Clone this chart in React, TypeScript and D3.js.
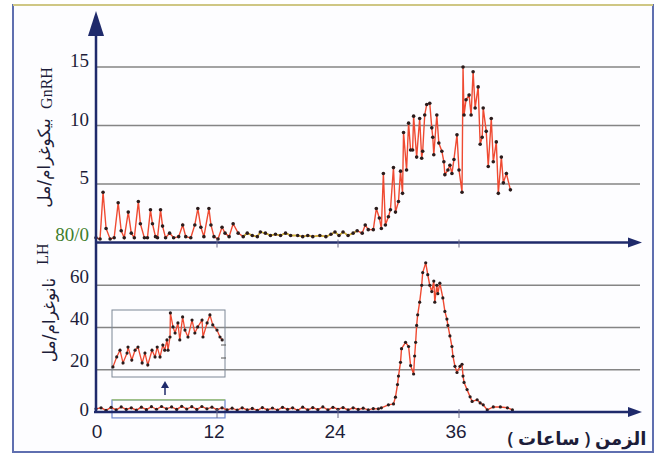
import React from "react";
import * as d3 from "d3";

// ---------- DATA ----------
// GnRH (pg/ml) — time (h) and value
const gnrhTime = [
  0.0, 0.4, 0.7, 1.0, 1.4, 1.8, 2.2, 2.5, 2.8, 3.2, 3.5, 3.8, 4.2, 4.4, 4.8, 5.1, 5.4, 5.6, 5.9, 6.1,
  6.4, 6.6, 6.9, 7.3, 7.7, 8.2, 8.6, 8.9, 9.4, 9.8, 10.1, 10.4, 10.7, 11.2, 11.4, 11.7, 12.1, 12.5, 12.8, 13.2,
  13.6, 14.1, 14.6, 15.0, 15.5, 16.0, 16.3, 16.8, 17.3, 17.8, 18.3, 18.8, 19.3, 20.0, 20.5, 21.0, 21.5, 22.2, 22.8, 23.3,
  23.7, 24.1, 24.5, 25.0, 25.5, 25.9, 26.4, 26.7, 27.0, 27.5, 27.8, 28.1, 28.3, 28.5, 28.7, 29.0, 29.2, 29.5, 29.7, 30.0,
  30.2, 30.4, 30.5, 30.8, 31.0, 31.2, 31.4, 31.5, 31.8, 32.1, 32.3, 32.4, 32.6, 32.8, 33.1, 33.3, 33.4, 33.5, 33.8, 34.0,
  34.3, 34.5, 34.6, 34.9, 35.1, 35.3, 35.5, 35.8, 36.0, 36.3, 36.4, 36.5, 36.7, 37.0, 37.2, 37.4, 37.6, 37.9, 38.1, 38.3,
  38.4, 38.7, 38.9, 39.2, 39.4, 39.7, 39.9, 40.2, 40.4, 40.7, 41.1,
];
const gnrhValue = [
  0.4, 0.3, 4.3, 1.2, 0.3, 0.4, 3.4, 1.0, 0.4, 2.6, 0.8, 0.4, 3.5, 1.6, 0.4, 0.4, 2.8, 1.6, 0.5, 0.4,
  2.8, 1.4, 0.4, 0.8, 0.4, 0.5, 1.5, 0.5, 0.4, 1.5, 2.9, 1.3, 0.5, 2.9, 1.5, 0.5, 0.3, 1.3, 0.8, 0.5,
  1.6, 0.8, 0.5, 0.8, 0.6, 0.5, 0.9, 0.8, 0.6, 0.7, 0.6, 0.8, 0.6, 0.6, 0.5, 0.6, 0.5, 0.6, 0.5, 0.7,
  0.9, 0.6, 0.9, 0.6, 0.8, 1.0, 0.8, 1.5, 1.1, 1.1, 2.9, 2.1, 1.2, 5.9, 1.5, 2.2, 2.8, 6.4, 2.6, 3.5,
  6.1, 4.2, 9.4, 6.2, 10.2, 7.9, 7.9, 10.8, 7.3, 10.6, 7.2, 7.8, 10.9, 11.8, 11.9, 9.8, 9.0, 7.5, 10.9, 8.5,
  7.8, 6.9, 5.8, 6.2, 6.6, 5.9, 7.1, 9.2, 6.2, 4.3, 15.0, 10.9, 12.2, 12.6, 10.9, 14.6, 11.5, 13.3, 8.4, 9.0,
  11.5, 9.5, 6.5, 10.6, 6.9, 8.6, 4.2, 7.3, 5.1, 5.9, 4.5,
];

// LH (ng/ml) — time (h) and value
const lhTime = [
  0.0, 0.5, 1.0, 1.5, 2.0, 2.5, 3.0, 3.5, 4.0, 4.5, 5.0, 5.5, 6.0, 6.5, 7.0, 7.5, 8.0, 8.5, 9.0, 9.5,
  10.0, 10.5, 11.0, 11.5, 12.0, 12.5, 13.0, 13.5, 14.0, 14.5, 15.0, 15.5, 16.0, 16.5, 17.0, 17.5, 18.0, 18.5, 19.0, 19.5,
  20.0, 20.5, 21.0, 21.5, 22.0, 22.5, 23.0, 23.5, 24.0, 24.5, 25.0, 25.5, 26.0, 26.5, 27.0, 27.5, 28.0, 28.3, 29.0, 29.5,
  29.7, 29.9, 30.0, 30.2, 30.3, 30.7, 31.0, 31.2, 31.5, 31.6, 31.7, 31.8, 31.9, 32.1, 32.3, 32.4, 32.7, 32.9, 33.1, 33.3,
  33.5, 33.6, 33.8, 33.9, 34.1, 34.4, 34.6, 34.8, 34.9, 35.1, 35.3, 35.4, 35.6, 35.8, 36.1, 36.3, 36.4, 36.5, 36.8, 37.1,
  37.3, 37.8, 38.1, 38.4, 38.8, 39.4, 40.1, 40.8, 41.3,
];
const lhValue = [
  1.5, 2.0, 0.8, 2.2, 1.0, 2.4, 1.2, 2.0, 0.9, 2.3, 1.1, 2.5, 1.3, 2.6, 1.5, 2.4, 1.2, 2.7, 1.4, 2.5,
  1.2, 2.6, 1.5, 2.3, 1.1, 2.0, 1.0, 1.8, 0.9, 2.0, 1.0, 1.7, 0.8, 2.1, 1.0, 1.9, 0.9, 2.2, 1.2, 2.0,
  0.8, 2.3, 1.0, 2.1, 1.1, 2.4, 1.0, 2.2, 1.3, 2.1, 1.0, 2.0, 1.2, 1.8, 1.0, 1.6, 1.5, 2.0, 3.4, 3.8,
  7, 13, 17, 23.5, 30, 33, 31, 22, 18, 26.5, 33, 41, 46, 52, 60, 66, 70.6, 65, 60, 57,
  62, 52, 60, 56, 61, 54, 47.6, 44, 41, 36, 31, 26.4, 21.6, 18.7, 21.6, 22.6, 17, 14, 10.6, 7.2,
  5, 5.8, 4.3, 3.4, 1, 2.4, 2.4, 2, 1,
];

// Inset: magnified LH baseline, first 12 h
const insetTime = [
  0.1, 0.5, 0.85, 1.17, 1.6, 1.7, 2.1, 2.45, 2.76, 3.2, 3.5, 3.8, 4.25, 4.57, 4.8, 5.1, 5.4, 5.6, 5.84, 5.95,
  6.16, 6.2, 6.48, 6.7, 7.0, 7.2, 7.5, 7.75, 8.07, 8.5, 8.8, 9.1, 9.56, 9.66, 10.1, 10.4, 10.7, 11.15, 11.47, 11.7,
];
const insetValue = [
  0.45, 0.9, 1.2, 0.63, 1.07, 1.34, 0.76, 1.2, 1.34, 0.63, 1.07, 0.54, 1.2, 0.9, 1.34, 0.9, 1.43, 1.2, 1.66, 1.2,
  1.79, 2.87, 2.24, 1.97, 2.42, 1.66, 2.69, 2.1, 1.79, 2.55, 1.97, 2.24, 2.55, 1.79, 2.42, 2.78, 2.33, 2.1, 1.79, 1.66,
];

const xTicks = [0, 12, 24, 36];
const gnrhTicks = [5, 10, 15];
const lhTicks = [20, 40, 60];

const gnrhLabel = "بيكوغرام/مل";
const lhLabel = "نانوغرام/مل";
const xLabel = "الزمن ( ساعات )";

// ---------- COMPONENT ----------
export default function App() {
  const W = 664;
  const H = 461;
  const x = d3.scaleLinear().domain([0, 36]).range([96, 459]);
  const yTop = d3.scaleLinear().domain([0, 15]).range([242.5, 67]);
  const yBot = d3.scaleLinear().domain([0, 80]).range([412, 243]);
  const xIn = d3.scaleLinear().domain([0, 12]).range([112, 225]);
  const yIn = d3.scaleLinear().domain([0, 3]).range([377, 310]);

  const gnrh = gnrhTime.map((t, i) => [t, gnrhValue[i]] as [number, number]);
  const lh = lhTime.map((t, i) => [t, lhValue[i]] as [number, number]);
  const inset = insetTime.map((t, i) => [t, insetValue[i]] as [number, number]);

  const lineTop = d3.line<[number, number]>().x((d) => x(d[0])).y((d) => yTop(d[1]));
  const lineBot = d3.line<[number, number]>().x((d) => x(d[0])).y((d) => yBot(d[1]));
  const lineIn = d3.line<[number, number]>().x((d) => xIn(d[0])).y((d) => yIn(d[1]));

  const flatGnrh = gnrh.filter((d) => d[0] >= 14.6 && d[0] <= 26.0);

  const axisColor = "#1f2a6b";
  const gridColor = "#858585";
  const red = "#ef4a32";
  const dot = "#2b1c1c";
  const xEnd = 642;

  return (
    <svg width={W} height={H} style={{ display: "block", position: "absolute", left: 0, top: 0 }}>
      <rect x={0} y={0} width={W} height={H} fill="#ffffff" />
      {/* frame */}
      <rect x={13} y={5} width={640} height={447} fill="#fdfdff" stroke="#5f6fb0" strokeWidth={2} />
      <line x1={13} x2={653} y1={5} y2={5} stroke="#cfc784" strokeWidth={2} />

      {/* gridlines */}
      {gnrhTicks.map((v) => (
        <line key={"gt" + v} x1={96} x2={640} y1={yTop(v)} y2={yTop(v)} stroke={gridColor} strokeWidth={1.5} />
      ))}
      {lhTicks.map((v) => (
        <line key={"gb" + v} x1={96} x2={640} y1={yBot(v)} y2={yBot(v)} stroke={gridColor} strokeWidth={1.5} />
      ))}

      {/* inset boxes */}
      <rect x={xIn(0)} y={yIn(3)} width={xIn(12) - xIn(0)} height={yIn(0) - yIn(3)} fill="none" stroke="#7c8796" strokeWidth={1} />
      <line x1={221} x2={226} y1={345} y2={345} stroke="#555" strokeWidth={1} />
      <line x1={221} x2={226} y1={358} y2={358} stroke="#555" strokeWidth={1} />
      <rect x={xIn(0)} y={yBot(5.7)} width={xIn(12) - xIn(0)} height={yBot(-2.8) - yBot(5.7)} fill="none" stroke="#6d86cc" strokeWidth={1.2} />
      <line x1={xIn(0)} x2={xIn(12)} y1={yBot(5.7)} y2={yBot(5.7)} stroke="#9cc46a" strokeWidth={1.2} />
      <line x1={165} x2={165} y1={395} y2={387} stroke={axisColor} strokeWidth={1.5} />
      <path d="M161,388 L169,388 L165,381 Z" fill={axisColor} />

      {/* series */}
      <path d={lineTop(gnrh) || ""} fill="none" stroke={red} strokeWidth={1.4} />
      <path d={lineTop(flatGnrh) || ""} fill="none" stroke="#c9c23a" strokeWidth={1.4} />
      <path d={lineBot(lh) || ""} fill="none" stroke={red} strokeWidth={1.4} />
      <path d={lineIn(inset) || ""} fill="none" stroke={red} strokeWidth={1.3} />
      {gnrh.map((d, i) => (
        <circle key={"dg" + i} cx={x(d[0])} cy={yTop(d[1])} r={1.8} fill={dot} />
      ))}
      {lh.map((d, i) => (
        <circle key={"dl" + i} cx={x(d[0])} cy={yBot(d[1])} r={1.6} fill={dot} />
      ))}
      {inset.map((d, i) => (
        <circle key={"di" + i} cx={xIn(d[0])} cy={yIn(d[1])} r={1.6} fill={dot} />
      ))}

      {/* axes */}
      <line x1={96} x2={96} y1={413} y2={28} stroke={axisColor} strokeWidth={2.5} />
      <path d="M88,36 L104,36 L96,11 Z" fill={axisColor} />
      <line x1={96} x2={xEnd - 12} y1={yTop(0)} y2={yTop(0)} stroke={axisColor} strokeWidth={2.5} />
      <path d={`M${xEnd - 14},${yTop(0) - 5} L${xEnd},${yTop(0)} L${xEnd - 14},${yTop(0) + 5} Z`} fill={axisColor} />
      <line x1={94} x2={xEnd - 12} y1={yBot(0)} y2={yBot(0)} stroke={axisColor} strokeWidth={2.5} />
      <path d={`M${xEnd - 14},${yBot(0) - 5} L${xEnd},${yBot(0)} L${xEnd - 14},${yBot(0) + 5} Z`} fill={axisColor} />
      {xTicks.slice(1).map((t) => (
        <g key={"xt" + t}>
          <line x1={x(t)} x2={x(t)} y1={yTop(0) - 3} y2={yTop(0) + 5} stroke="#6a6a8a" strokeWidth={1} />
          <line x1={x(t)} x2={x(t)} y1={yBot(0) - 3} y2={yBot(0) + 6} stroke="#6a6a8a" strokeWidth={1} />
        </g>
      ))}

      {/* tick labels */}
      <g fontFamily="Liberation Serif, serif" fontSize={19} fill="#1d1d3a" textAnchor="end">
        {gnrhTicks.map((v) => (
          <text key={"lt" + v} x={89} y={yTop(v) - 4} dominantBaseline="middle">{v}</text>
        ))}
        <text x={89} y={237} dominantBaseline="middle" fill="#3f7d2c">80/0</text>
        {lhTicks.map((v) => (
          <text key={"lb" + v} x={89} y={yBot(v) - 7} dominantBaseline="middle">{v}</text>
        ))}
        <text x={89} y={yBot(0)} dominantBaseline="middle">0</text>
      </g>
      <g fontFamily="Liberation Sans, sans-serif" fontSize={19} fill="#1d1d3a" textAnchor="middle">
        {xTicks.map((t) => (
          <text key={"xl" + t} x={x(t) - (t === 0 ? -1 : 3)} y={433} dominantBaseline="middle">{t}</text>
        ))}
      </g>

      {/* axis titles */}
      <text x={577} y={440} fontFamily="Noto Sans, DejaVu Sans, sans-serif" fontSize={18} fontWeight={600} fill="#1d1d3a" textAnchor="middle" dominantBaseline="middle" direction="rtl">{xLabel}</text>
      <text transform="translate(48,88) rotate(-90)" fontFamily="Liberation Serif, serif" fontSize={16} fill="#1d1d3a" textAnchor="middle" dominantBaseline="middle">GnRH</text>
      <text transform="translate(45,163) rotate(-90)" fontFamily="DejaVu Sans, sans-serif" fontSize={17} fill="#1d1d3a" textAnchor="middle" dominantBaseline="middle">{gnrhLabel}</text>
      <text transform="translate(44,254) rotate(-90)" fontFamily="Liberation Serif, serif" fontSize={16} fill="#1d1d3a" textAnchor="middle" dominantBaseline="middle">LH</text>
      <text transform="translate(50,320) rotate(-90)" fontFamily="DejaVu Sans, sans-serif" fontSize={17} fill="#1d1d3a" textAnchor="middle" dominantBaseline="middle">{lhLabel}</text>
    </svg>
  );
}
